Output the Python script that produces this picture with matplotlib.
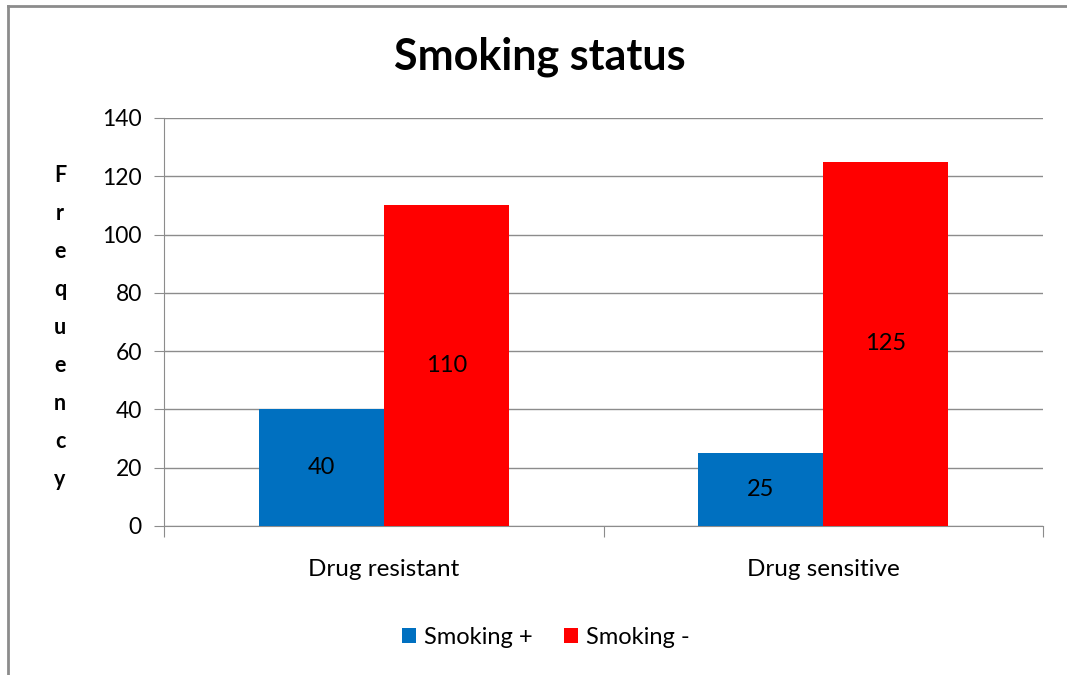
import matplotlib
matplotlib.use("Agg")
import matplotlib.pyplot as plt
import numpy as np

categories = ["Drug resistant", "Drug sensitive"]
series_names = ["Smoking +", "Smoking -"]
smoking_pos = [40, 25]
smoking_neg = [110, 125]
colors = ["#0070C0", "#FF0000"]
yticks = [0, 20, 40, 60, 80, 100, 120, 140]

plt.rcParams['font.family'] = ['Lato', 'DejaVu Sans']

fig = plt.figure(figsize=(10.67, 6.75), dpi=100)
ax = fig.add_axes([164/1067, 1-526/675, (1043-164)/1067, (526-118)/675])

x = np.arange(len(categories))
w = 0.284
b1 = ax.bar(x - w/2, smoking_pos, w, color=colors[0], label=series_names[0], zorder=3)
b2 = ax.bar(x + w/2, smoking_neg, w, color=colors[1], label=series_names[1], zorder=3)
for bars in (b1, b2):
    for r in bars:
        h = r.get_height()
        ax.text(r.get_x() + r.get_width()/2, h/2, f"{h:g}", ha='center', va='center',
                fontsize=17, color='black', zorder=4)

ax.set_xlim(-0.5, 1.5)
ax.set_ylim(0, 140)
ax.set_yticks(yticks)
ax.set_yticklabels([str(t) for t in yticks], fontsize=16.5)
ax.yaxis.grid(True, color='#8c8c8c', linewidth=1, zorder=0)
ax.set_axisbelow(True)
for s in ['top', 'right']:
    ax.spines[s].set_visible(False)
for s in ['left', 'bottom']:
    ax.spines[s].set_color('#8c8c8c')
ax.tick_params(axis='y', length=7, color='#8c8c8c', pad=9)
ax.set_xticks([-0.5, 0.5, 1.5], minor=False)
ax.set_xticklabels(["", "", ""])
ax.set_xticks(x, minor=True)
ax.set_xticklabels(categories, minor=True, fontsize=17.5)
ax.tick_params(axis='x', which='major', length=8, color='#8c8c8c', direction='out')
ax.tick_params(axis='x', which='minor', length=0, pad=24)

fig.text(540/1067, 1-57/675, "Smoking status", ha='center', va='center', fontsize=31, fontweight='bold')

label = "Frequency"
y0, dy = 175, 38.0
for i, ch in enumerate(label):
    fig.text(60/1067, 1-(y0 + i*dy)/675, ch, ha='center', va='center', fontsize=15.5, fontweight='bold')

leg = fig.legend(handles=[b1, b2], labels=series_names, loc='center', bbox_to_anchor=(546/1067, 1-637/675),
                 ncol=2, frameon=False, fontsize=17, handlelength=0.6, handleheight=0.6,
                 handletextpad=0.35, columnspacing=1.3)

# outer frame lines (left and top)
fig.add_artist(plt.Line2D([8/1067, 8/1067], [0, 1-6/675], transform=fig.transFigure, color='#8c8c8c', lw=2))
fig.add_artist(plt.Line2D([8/1067, 1], [1-6/675, 1-6/675], transform=fig.transFigure, color='#8c8c8c', lw=2))

fig.savefig("out.png", dpi=100)
